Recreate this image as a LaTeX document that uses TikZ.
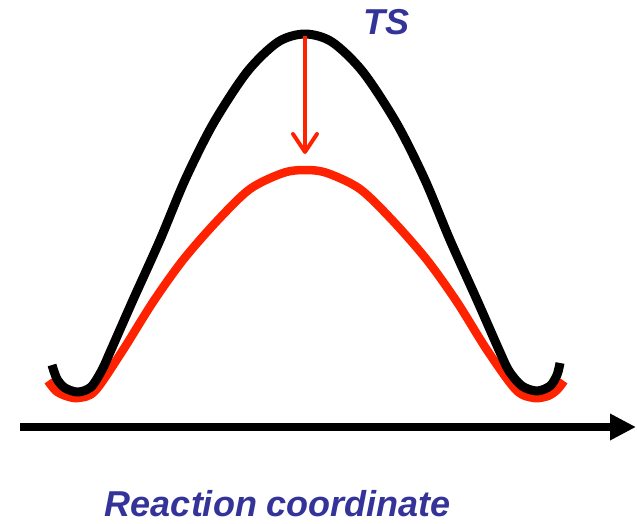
\documentclass[tikz,border=0pt]{standalone}
\usepackage{fontspec}
\setmainfont{Liberation Sans}
\usetikzlibrary{arrows.meta}
\definecolor{tsblue}{RGB}{51,51,153}
\definecolor{barrierred}{RGB}{255,34,0}
\begin{document}
\begin{tikzpicture}[x=1pt,y=-1pt,
		profile/.style={
			line width=9pt,
			line join=round
		},
		bluetext/.style={
			font=\fontsize{36}{40}\selectfont\bfseries\itshape,
			text=tsblue,
			inner sep=0pt,
			text depth=0pt
		}
		]
		\useasboundingbox (0,0) rectangle (637,524);
		
		% Key points
		\coordinate (ts) at (305,36);
		\coordinate (arrowtip) at (305,154);
		\coordinate (axstart) at (20,427);
		\coordinate (axend) at (636,427);
		
		% Lowered barrier (red)
		\draw[profile, barrierred, line width=8.5pt] plot[smooth] coordinates {
			(48,381) (56,391) (66,396) (78,398) (95,391) (123,350) (153,302)
			(183,260) (217,221) (250,189) (283,173) (305,170) (327,173)
			(360,189) (393,221) (427,260) (457,302) (487,350) (516,390)
			(534,398) (548,396) (557,390) (564,381)};
		
		% Original barrier (black)
		\draw[profile, black] plot[smooth] coordinates {
			(52,365) (57,379) (65,388) (78,392) (91,387) (102,370) (111,350)
			(133,300) (160,240) (185,180) (213,124) (247,72) (278,42) (305,34)
			(332,42) (363,72) (397,124) (425,180) (450,240) (477,300)
			(499,350) (509,371) (522,386) (537,391) (550,386) (557,375)
			(560,363)};
		
		% Lowering of the transition state
		\draw[barrierred, line width=4pt, -{Straight Barb[length=18pt,width=24pt,round]}] (ts) -- (arrowtip);
		
		% Axis
		\draw[line width=8.5pt, -{Triangle[length=26pt,width=25pt]}] (axstart) -- (axend);
		
		% Labels
		\node[bluetext, anchor=base] (tslabel) at (386,35) {TS};
		\node[bluetext, anchor=base] (axislabel) at (278,516) {Reaction coordinate};
		
	\end{tikzpicture}
\end{document}
